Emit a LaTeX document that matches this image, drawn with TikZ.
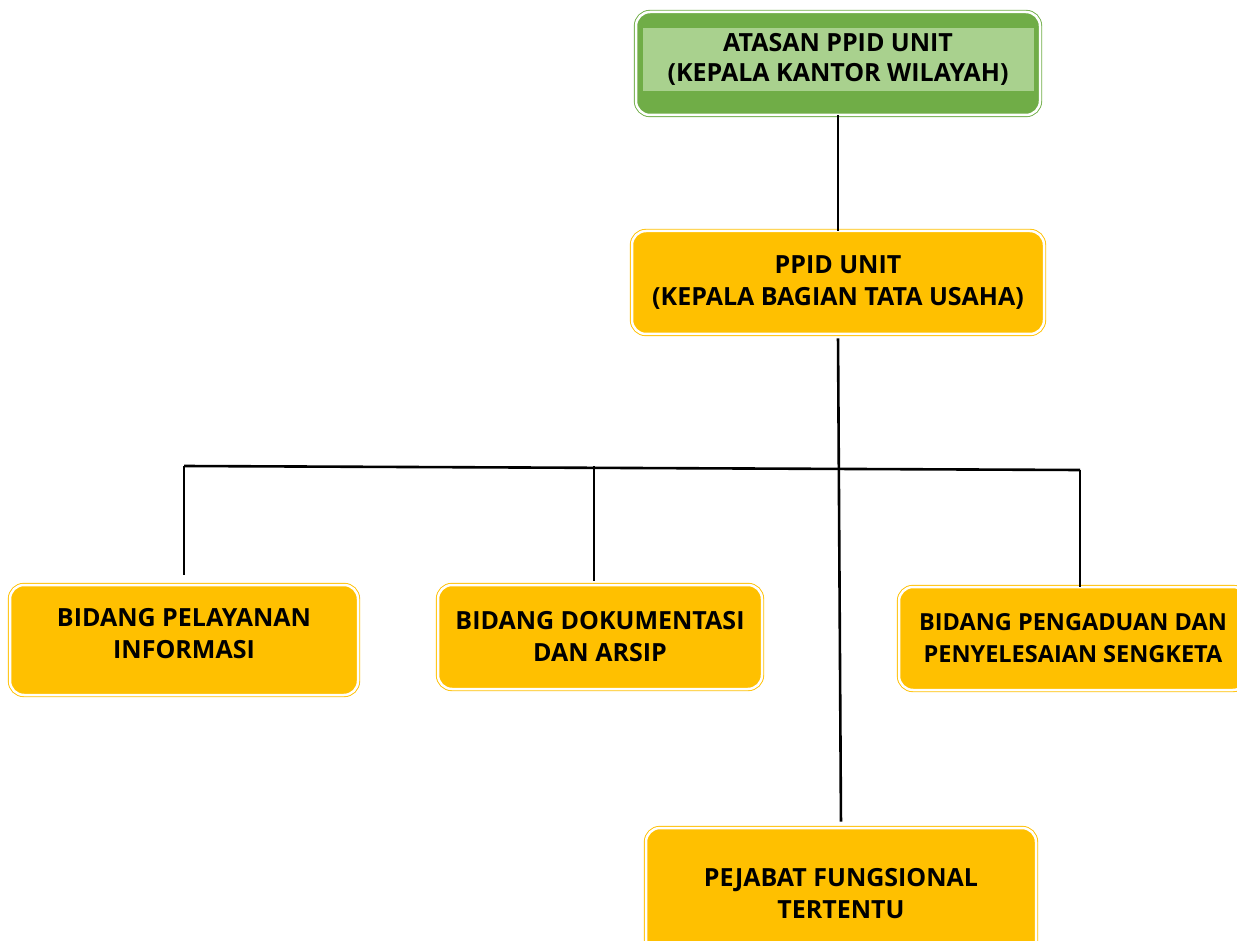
\documentclass[tikz,border=0pt]{standalone}
\usepackage{fontspec}
\setmainfont{Open Sans}
\definecolor{unitgold}{RGB}{255, 192, 0}
\definecolor{unitgreen}{RGB}{112, 173, 71}
\definecolor{bandgreen}{RGB}{169, 209, 142}
\usetikzlibrary{positioning, calc}

\tikzset{
  unitbox/.style={draw=#1, fill=#1, double=white, double distance=2.5pt, line width=0.9pt,
    rounded corners=14pt, font=\fontsize{25}{32}\selectfont\bfseries, align=center, inner sep=0pt},
  link/.style={line width=2.6pt, black}
}

\begin{document}
\begin{tikzpicture}[x=1pt, y=-1pt]
  \useasboundingbox (0,0) rectangle (1237,941);
  \clip (0,0) rectangle (1237,941);

  % Atasan PPID
  \node[unitbox=unitgreen, minimum width=404pt, minimum height=103pt] (atasan) at (838, 63.5) {};
  \node[fill=bandgreen, minimum width=391pt, minimum height=63pt, inner sep=0pt,
        font=\fontsize{25}{30}\selectfont\bfseries, align=center] (atasanlbl) at (838, 59.5)
        {ATASAN PPID UNIT\\(KEPALA KANTOR WILAYAH)};

  % PPID unit
  \node[unitbox=unitgold, minimum width=412pt, minimum height=103pt] (ppid) at (838, 282.5)
        {PPID UNIT\\(KEPALA BAGIAN TATA USAHA)};
  \draw[link] (atasan.south) -- (ppid.north);

  % Bidang
  \node[unitbox=unitgold, minimum width=348pt, minimum height=110pt, text depth=14pt] (pelayanan) at (184, 640)
        {BIDANG PELAYANAN\\INFORMASI};
  \node[unitbox=unitgold, minimum width=324pt, minimum height=104pt] (dokumentasi) at (600, 637)
        {BIDANG DOKUMENTASI\\DAN ARSIP};
  \node[unitbox=unitgold, minimum width=348pt, minimum height=103pt,
        font=\fontsize{23.5}{32}\selectfont\bfseries] (pengaduan) at (1073, 638.5)
        {BIDANG PENGADUAN DAN\\PENYELESAIAN SENGKETA};

  % Pejabat fungsional
  \node[unitbox=unitgold, minimum width=390pt, minimum height=132pt] (fungsional) at (841, 894)
        {PEJABAT FUNGSIONAL\\TERTENTU};

  % Garis bidang
  \coordinate (busL) at (184, 466);
  \coordinate (busD) at (594, 466);
  \coordinate (busR) at (1080, 470);
  \draw[link] (busL) -- (busR);
  \draw[link, shorten >=10pt] (busL) -- (pelayanan.north);
  \draw[link, shorten >=4pt] (busD) -- (busD |- dokumentasi.north);
  \draw[link] (busR) -- (busR |- pengaduan.north);
  \draw[link, shorten <=4pt, shorten >=6pt] (ppid.south) -- (fungsional.north);
\end{tikzpicture}
\end{document}
